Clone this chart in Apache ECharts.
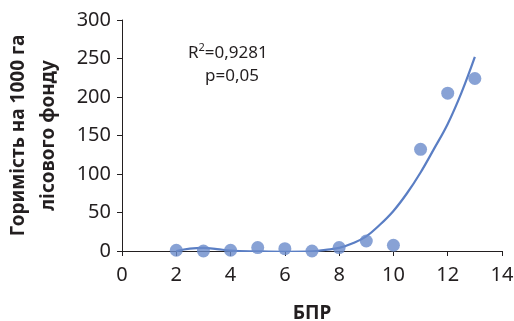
<!DOCTYPE html>
<html>
<head>
<meta charset="utf-8">
<script src="https://cdn.jsdelivr.net/npm/echarts@6/dist/echarts.min.js"></script>
<style>html,body{margin:0;padding:0;background:#fff}#c{width:514px;height:321px}</style>
</head>
<body>
<div id="c"></div>
<script>
// Observed points (БПР, горимість)
const pointX = [2, 3, 4, 5, 6, 7, 8, 9, 10, 11, 12, 13];
const pointY = [1, 0, 1, 4.5, 3, 0, 4.5, 13, 7.5, 132, 205, 224];
// Trend line
const trendX = [2, 2.5, 3, 3.5, 4, 5, 6, 7, 7.5, 8, 8.5, 9, 9.5, 10, 10.5, 11, 11.5, 12, 12.5, 13];
const trendY = [0, 3, 4, 2.5, 0.5, -0.5, -1, -0.5, 1.5, 4, 10, 19, 34, 52, 75, 102, 133, 165, 205, 252];
const xName = 'БПР';
const yName = 'Горимість на 1000 га\nлісового фонду';
const statLine1 = 'R';
const statSup = '2';
const statLine1b = '=0,9281';
const statLine2 = 'p=0,05';

const FONT = 'Noto Sans';
const AX = '#231f20';
const chart = echarts.init(document.getElementById('c'), null, {renderer: 'canvas'});
chart.setOption({
  animation: false,
  backgroundColor: '#fff',
  grid: {left: 122, right: 12, top: 20, bottom: 70, outerBoundsMode: 'none', containLabel: false},
  xAxis: {
    type: 'value', min: 0, max: 14, interval: 2,
    name: xName, nameLocation: 'middle', nameGap: 53,
    nameTextStyle: {fontFamily: FONT, fontWeight: 'bold', fontSize: 19, color: AX},
    axisLine: {show: true, lineStyle: {color: AX, width: 1}},
    axisTick: {show: true, length: 5, lineStyle: {color: AX}},
    axisLabel: {fontFamily: FONT, fontSize: 20, color: AX, margin: 14},
    splitLine: {show: false}
  },
  yAxis: {
    type: 'value', min: 0, max: 300, interval: 50,
    name: yName, nameLocation: 'middle', nameGap: 58, nameRotate: 90,
    nameTextStyle: {fontFamily: FONT, fontWeight: 'bold', fontSize: 19, color: AX, lineHeight: 30},
    axisLine: {show: true, lineStyle: {color: AX, width: 1}},
    axisTick: {show: true, length: 5, lineStyle: {color: AX}},
    axisLabel: {fontFamily: FONT, fontSize: 20, color: AX, margin: 11},
    splitLine: {show: false}
  },
  graphic: [
    {type: 'text', left: 188, top: 42, style: {
      text: '{a|' + statLine1 + '}{s|' + statSup + '}{a|' + statLine1b + '}',
      rich: {
        a: {fontFamily: FONT, fontSize: 17, fill: AX, verticalAlign: 'bottom', lineHeight: 20},
        s: {fontFamily: FONT, fontSize: 11, fill: AX, verticalAlign: 'top', lineHeight: 20}
      }
    }},
    {type: 'text', x: 232, y: 76, style: {
      text: statLine2, fontFamily: FONT, fontSize: 17, fill: AX, align: 'center', verticalAlign: 'middle'
    }}
  ],
  series: [
    {
      type: 'line', smooth: 0.4, showSymbol: false, silent: true,
      data: trendX.map((x, i) => [x, trendY[i]]),
      lineStyle: {color: '#5a7ec4', width: 2.2}, z: 2
    },
    {
      type: 'scatter', symbolSize: 13,
      data: pointX.map((x, i) => [x, pointY[i]]),
      itemStyle: {color: '#6a8bcb'}, z: 3
    }
  ]
});
</script>
</body>
</html>
